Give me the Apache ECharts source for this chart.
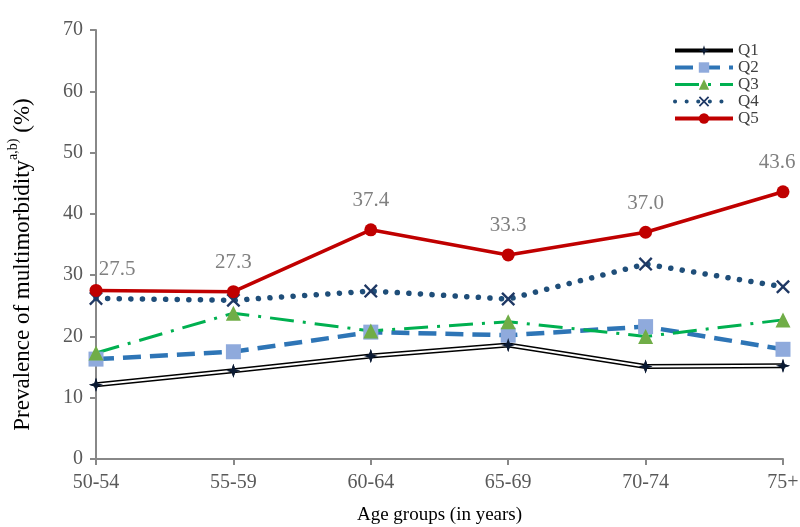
<!DOCTYPE html>
<html>
<head>
<meta charset="utf-8">
<script src="https://cdn.jsdelivr.net/npm/echarts@6/dist/echarts.min.js"></script>
<style>html,body{margin:0;padding:0;background:#fff}#c{width:800px;height:527px}</style>
</head>
<body>
<div id="c"></div>
<script>
var categories = ['50-54', '55-59', '60-64', '65-69', '70-74', '75+'];
var q1 = [12.1, 14.4, 16.8, 18.6, 15.1, 15.2];
var q2 = [16.3, 17.5, 20.7, 20.2, 21.6, 17.9];
var q3 = [17.3, 23.8, 20.9, 22.4, 20.0, 22.7];
var q4 = [26.2, 25.9, 27.4, 26.1, 31.8, 28.1];
var q5 = [27.5, 27.3, 37.4, 33.3, 37.0, 43.6];
var yTicks = [0, 10, 20, 30, 40, 50, 60, 70];

var serif = '"Liberation Serif", "DejaVu Serif", serif';
var starPath = 'path://M50,0 L62,38 L100,50 L62,62 L50,100 L38,62 L0,50 L38,38 Z';
var xPath = 'path://M0,12 L12,0 L50,38 L88,0 L100,12 L62,50 L100,88 L88,100 L50,62 L12,100 L0,88 L38,50 Z';

var q5Labels = q5.map(function (v, i) {
  var item = { value: v };
  if (i === 0) item.label = { offset: [21, 8] };
  if (i === q5.length - 1) item.label = { offset: [-6, 0] };
  return item;
});

var chart = echarts.init(document.getElementById('c'));
chart.setOption({
  animation: false,
  grid: { left: 96, right: 17, top: 30, bottom: 68, outerBoundsMode: 'none', containLabel: false },
  legend: {
    orient: 'vertical',
    left: 668,
    top: 37,
    itemWidth: 58,
    itemHeight: 13,
    itemGap: 0,
    textStyle: { fontFamily: serif, fontSize: 17, color: '#404040' },
    data: [
      { name: 'Q1', lineStyle: { width: 4 } },
      { name: 'Q2', lineStyle: { width: 4 } },
      { name: 'Q3', lineStyle: { width: 3 } },
      { name: 'Q4', lineStyle: { width: 4 } },
      { name: 'Q5', lineStyle: { width: 4 } }
    ]
  },
  xAxis: {
    type: 'category',
    data: categories,
    boundaryGap: false,
    axisLine: { lineStyle: { color: '#888888', width: 2 } },
    axisTick: { show: true, alignWithLabel: true, length: 6, lineStyle: { color: '#888888', width: 2 } },
    axisLabel: { fontFamily: serif, fontSize: 20, color: '#595959', margin: 14 },
    name: 'Age groups (in years)',
    nameLocation: 'middle',
    nameGap: 47,
    nameTextStyle: { fontFamily: serif, fontSize: 19, color: '#000' }
  },
  yAxis: {
    type: 'value',
    min: yTicks[0],
    max: yTicks[yTicks.length - 1],
    interval: 10,
    splitLine: { show: false },
    axisLine: { show: true, lineStyle: { color: '#888888', width: 2 } },
    axisTick: { show: true, length: 6, lineStyle: { color: '#888888', width: 2 } },
    axisLabel: { fontFamily: serif, fontSize: 20, color: '#595959', margin: 13 },
    name: '{a|Prevalence of multimorbidity}{s|a,b)}{a| (%)}',
    nameLocation: 'middle',
    nameGap: 62,
    nameRotate: 90,
    nameTextStyle: {
      padding: [0, 40, 0, 0],
      rich: {
        a: { fontFamily: serif, fontSize: 23, color: '#000', lineHeight: 28, verticalAlign: 'bottom' },
        s: { fontFamily: serif, fontSize: 14, color: '#000', lineHeight: 28, verticalAlign: 'top', padding: [0, 0, 8, 0] }
      }
    }
  },
  series: [
    {
      name: 'Q1', type: 'line', data: q1, z: 2,
      lineStyle: { color: '#000', width: 5 },
      itemStyle: { color: '#0b1a33' },
      symbol: starPath, symbolSize: 14
    },
    {
      name: 'Q1w', type: 'line', data: q1, z: 3,
      lineStyle: { color: '#fff', width: 2 },
      symbol: 'none', silent: true
    },
    {
      name: 'Q1', type: 'line', data: q1, z: 4,
      lineStyle: { opacity: 0 },
      itemStyle: { color: '#0b1a33' },
      symbol: starPath, symbolSize: 14, silent: true
    },
    {
      name: 'Q2', type: 'line', data: q2, z: 2,
      lineStyle: { color: '#2E75B6', width: 4.5, type: [18, 9] },
      itemStyle: { color: '#8FAADC' },
      symbol: 'rect', symbolSize: 15
    },
    {
      name: 'Q3', type: 'line', data: q3, z: 2,
      lineStyle: { color: '#00B050', width: 3, type: [24, 9, 3, 9] },
      itemStyle: { color: '#70AD47' },
      symbol: 'triangle', symbolSize: 15
    },
    {
      name: 'Q4', type: 'line', data: q4, z: 2,
      lineStyle: { color: '#1F4E79', width: 5.5, type: [0.1, 11.5], cap: 'round' },
      itemStyle: { color: '#1F3864' },
      symbol: xPath, symbolSize: 14
    },
    {
      name: 'Q5', type: 'line', data: q5Labels, z: 5,
      lineStyle: { color: '#C00000', width: 3.5 },
      itemStyle: { color: '#C00000' },
      symbol: 'circle', symbolSize: 13,
      label: {
        show: true, position: 'top', distance: 12,
        fontFamily: serif, fontSize: 21, color: '#808080',
        formatter: function (p) { return p.value.toFixed(1); }
      }
    }
  ]
});
</script>
</body>
</html>
